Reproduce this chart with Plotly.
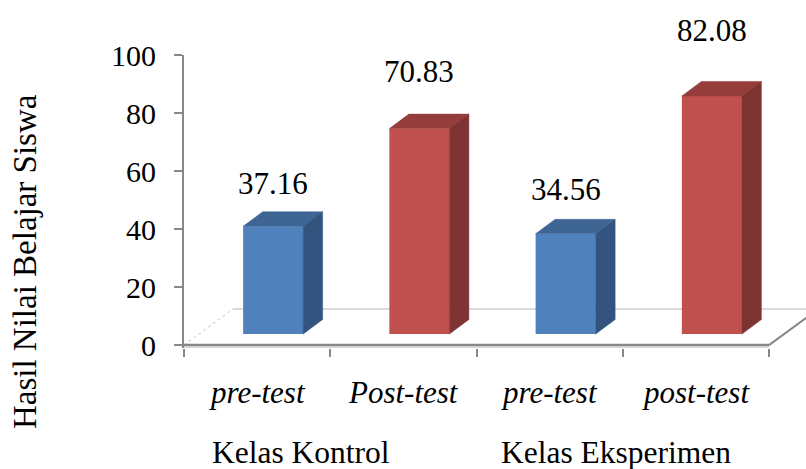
import plotly.graph_objects as go

# ---- data ----
categories = ["<i>pre-test</i>", "<i>Post-test</i>", "<i>pre-test</i>", "<i>post-test</i>"]
groups = ["Kelas Kontrol", "Kelas Eksperimen"]
values = [37.16, 70.83, 34.56, 82.08]
y_ticks = [0, 20, 40, 60, 80, 100]
y_title = "Hasil Nilai Belajar Siswa"

# ---- style ----
FONT = "'Times New Roman', Tinos, 'Liberation Serif', 'DejaVu Serif', serif"
AXIS_GREY = "#878787"
FLOOR_GREY = "#D9D9D9"
FRONT = {"blue": "#4F81BD", "red": "#C0504D"}
TOP = {"blue": "#3E6594", "red": "#943D3B"}
SIDE = {"blue": "#33547E", "red": "#7D3331"}
bar_colour = ["blue", "red", "blue", "red"]
label_lift = [28, 43, 30, 51]          # px above the back top edge
group_label_x = [301, 616]             # px centres of the group captions

# ---- layout geometry (pixels) ----
W, H = 806, 469
LEFT, RIGHT = 184, 806
TOP_PX, ZERO_PX = 55, 345
PX_X = 146.25                          # px per category slot
PX_Y = (ZERO_PX - TOP_PX) / 100.0      # px per value unit
Y_MIN = -1.0
BOTTOM_PX = ZERO_PX - Y_MIN * PX_Y

# 3-D projection offsets in data units
front_dx, front_dy = 16 / PX_X, 11 / PX_Y     # bar front plane
depth_dx, depth_dy = 19.5 / PX_X, 14.5 / PX_Y  # bar depth
floor_dx, floor_dy = 49 / PX_X, 36 / PX_Y      # full floor depth
bar_w = 60 / PX_X

n = len(values)
x_max = (RIGHT - LEFT) / PX_X


def paper_x(px):
    return (px - LEFT) / (RIGHT - LEFT)


def paper_y(py):
    return (BOTTOM_PX - py) / (BOTTOM_PX - TOP_PX)


fig = go.Figure()

centres = [i + 0.5 + front_dx for i in range(n)]

# front faces
fig.add_trace(go.Bar(
    x=centres, y=values, base=[front_dy] * n, width=bar_w,
    marker=dict(color=[FRONT[c] for c in bar_colour], line=dict(width=0)),
    hoverinfo="skip", showlegend=False,
))

# top and side faces
for xc, v, c in zip(centres, values, bar_colour):
    xl, xr = xc - bar_w / 2, xc + bar_w / 2
    y0, y1 = front_dy, front_dy + v
    top_x = [xl, xr, xr + depth_dx, xl + depth_dx, xl]
    top_y = [y1, y1, y1 + depth_dy, y1 + depth_dy, y1]
    side_x = [xr, xr + depth_dx, xr + depth_dx, xr, xr]
    side_y = [y0, y0 + depth_dy, y1 + depth_dy, y1, y0]
    for fx, fy, col in ((top_x, top_y, TOP[c]), (side_x, side_y, SIDE[c])):
        fig.add_trace(go.Scatter(
            x=fx, y=fy, mode="lines", fill="toself", fillcolor=col,
            line=dict(width=0.5, color=col), hoverinfo="skip", showlegend=False,
        ))

# floor outline
shapes = [
    dict(type="line", xref="x", yref="y", x0=floor_dx, y0=floor_dy,
         x1=n + floor_dx + 1, y1=floor_dy, line=dict(color=FLOOR_GREY, width=2),
         layer="below"),
    dict(type="line", xref="x", yref="y", x0=0, y0=0, x1=floor_dx, y1=floor_dy,
         line=dict(color=FLOOR_GREY, width=1.2, dash="dot"), layer="below"),
    dict(type="line", xref="x", yref="y", x0=n, y0=0, x1=n + floor_dx, y1=floor_dy,
         line=dict(color=AXIS_GREY, width=2), layer="below"),
    dict(type="line", xref="x", yref="y", x0=0, y0=-0.75, x1=n, y1=-0.75,
         line=dict(color=FLOOR_GREY, width=1.5), layer="below"),
    dict(type="line", xref="x", yref="y", x0=0, y0=0, x1=n, y1=0,
         line=dict(color=AXIS_GREY, width=2.5), layer="above"),
]

annotations = []
# value labels
for xc, v, lift in zip(centres, values, label_lift):
    annotations.append(dict(
        x=xc, y=front_dy + v + depth_dy, xref="x", yref="y",
        text=f"{v:.2f}", showarrow=False, yanchor="middle", yshift=lift,
        font=dict(family=FONT, size=31, color="black"),
    ))
# category labels
for i, cat in enumerate(categories):
    annotations.append(dict(
        x=i + 0.5, y=paper_y(392.5), xref="x", yref="paper", text=cat,
        showarrow=False, yanchor="middle",
        font=dict(family=FONT, size=31, color="black"),
    ))
# group captions
for gx, g in zip(group_label_x, groups):
    annotations.append(dict(
        x=paper_x(gx), y=paper_y(452.5), xref="paper", yref="paper", text=g,
        showarrow=False, yanchor="middle", xanchor="center",
        font=dict(family=FONT, size=31.5, color="black"),
    ))
# y-axis title
annotations.append(dict(
    x=paper_x(25), y=paper_y(262), xref="paper", yref="paper", text=y_title,
    textangle=-90, showarrow=False, xanchor="center", yanchor="middle",
    font=dict(family=FONT, size=33, color="black"),
))

fig.update_layout(
    width=W, height=H,
    margin=dict(l=LEFT, r=W - RIGHT, t=TOP_PX, b=H - BOTTOM_PX, pad=0),
    paper_bgcolor="white", plot_bgcolor="white",
    showlegend=False,
    font=dict(family=FONT),
    shapes=shapes, annotations=annotations,
    xaxis=dict(
        range=[0, x_max], showgrid=False, zeroline=False, showline=False,
        tickvals=list(range(n + 1)), ticks="outside", ticklen=8, tickwidth=2,
        tickcolor=AXIS_GREY, showticklabels=False, fixedrange=True,
    ),
    yaxis=dict(
        range=[Y_MIN, 100], tickvals=y_ticks, ticks="outside", ticklen=8,
        tickwidth=2, tickcolor=AXIS_GREY, showline=True, linewidth=2,
        linecolor=AXIS_GREY, showgrid=False, zeroline=False,
        tickfont=dict(family=FONT, size=30, color="black"),
        ticklabelstandoff=12, fixedrange=True,
    ),
)

fig.write_html("out.html")
